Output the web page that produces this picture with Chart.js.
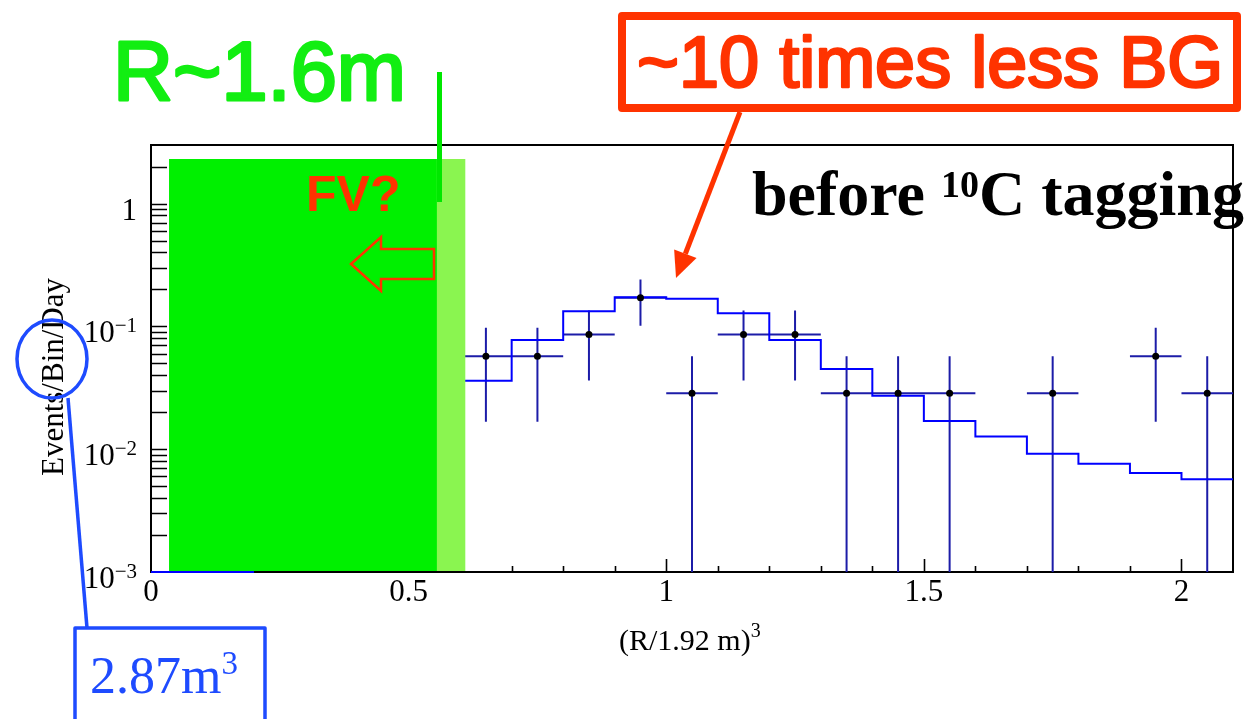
<!DOCTYPE html>
<html>
<head>
<meta charset="utf-8">
<title>Events per bin per day vs (R/1.92 m)^3</title>
<script src="https://cdn.jsdelivr.net/npm/chart.js@4.4.1/dist/chart.umd.min.js"></script>
<style>
  html, body { margin: 0; padding: 0; background: #ffffff; overflow: hidden; }
  #wrap { width: 1252px; height: 719px; position: relative; }
</style>
</head>
<body>
<div id="wrap"><canvas id="c" width="1252" height="719"></canvas></div>
<script>
// ---- measured rate per bin (events / bin / day) ----
const binCenters = [0.65, 0.75, 0.85, 0.95, 1.05, 1.15, 1.25, 1.35, 1.45, 1.55, 1.75, 1.95, 2.05];
const dataRate   = [0.0571, 0.0571, 0.0857, 0.171, 0.0286, 0.0857, 0.0857, 0.0286, 0.0286, 0.0286, 0.0286, 0.0571, 0.0286];
const errLow     = [0.0167, 0.0167, 0.0362, 0.101, 0, 0.0362, 0.0362, 0, 0, 0, 0, 0.0167, 0];
const errHigh    = [0.0975, 0.0975, 0.135, 0.241, 0.0571, 0.135, 0.135, 0.0571, 0.0571, 0.0571, 0.0571, 0.0975, 0.0571];
const binHalfWidth = 0.05;

// ---- expected background histogram (bin edges and contents) ----
const bgBinEdges = [0, 0.1, 0.2, 0.3, 0.4, 0.5, 0.6, 0.7, 0.8, 0.9, 1.0, 1.1, 1.2, 1.3, 1.4, 1.5, 1.6, 1.7, 1.8, 1.9, 2.0, 2.1];
const bgRate     = [0, 0, null, null, null, null, 0.0361, 0.0776, 0.133, 0.173, 0.168, 0.128, 0.0776, 0.045, 0.0272, 0.0170, 0.0127, 0.0092, 0.0076, 0.0064, 0.0057];

// ---- axis ticks ----
const xTickValues = [0, 0.5, 1, 1.5, 2];
const xTickLabels = ['0', '0.5', '1', '1.5', '2'];
const yTickValues = [1e-3, 1e-2, 1e-1, 1];
const yTickBase   = ['10', '10', '10', '1'];
const yTickExp    = ['\u22123', '\u22122', '\u22121', ''];

const X_MIN = 0, X_MAX = 2.1, Y_MIN = 1e-3, Y_MAX = 3.0;

// empty bins sit on the lower frame edge, as in the usual histogram drawing
const floorOf = v => (v === 0 ? Y_MIN : v);

const histPoints = [];
bgRate.forEach((v, i) => {
  if (v === null) { histPoints.push({ x: bgBinEdges[i], y: null }); return; }
  histPoints.push({ x: bgBinEdges[i], y: floorOf(v) });
  histPoints.push({ x: bgBinEdges[i + 1], y: floorOf(v) });
});
const dataPoints = binCenters.map((x, i) => ({ x: x, y: dataRate[i] }));

const RED = '#FF3300';
const BLUE_MARK = '#1E4BFF';
const ERR_COLOR = '#1C1CA8';
const SERIF = '"Liberation Serif", "Times New Roman", serif';
const SANS = '"Liberation Sans", Arial, sans-serif';

// frame, inside ticks and error bars (under the datasets)
const framePlugin = {
  id: 'frame',
  beforeDatasetsDraw(chart) {
    const { ctx, chartArea: a, scales: { x, y } } = chart;
    ctx.save();
    ctx.strokeStyle = '#000';
    ctx.lineWidth = 2;
    ctx.strokeRect(a.left, a.top, a.right - a.left, a.bottom - a.top);
    ctx.lineWidth = 1.6;
    ctx.beginPath();
    for (let k = 1; k <= 20; k++) {
      const px = Math.round(x.getPixelForValue(k * 0.1)) + 0.5;
      const len = (k % 5 === 0) ? 13 : 6;
      ctx.moveTo(px, a.bottom);
      ctx.lineTo(px, a.bottom - len);
    }
    for (let d = -3; d <= 0; d++) {
      for (let m = 1; m <= 9; m++) {
        const v = m * Math.pow(10, d);
        if (v <= Y_MIN || v >= Y_MAX) continue;
        const py = Math.round(y.getPixelForValue(v)) + 0.5;
        ctx.moveTo(a.left, py);
        ctx.lineTo(a.left + 16, py);
      }
    }
    ctx.stroke();

    // decade labels with raised exponents
    ctx.fillStyle = '#000';
    ctx.textBaseline = 'alphabetic';
    yTickValues.forEach((v, i) => {
      const py = y.getPixelForValue(v);
      const right = a.left - 14;
      ctx.font = '21px ' + SERIF;
      const we = yTickExp[i] ? ctx.measureText(yTickExp[i]).width : 0;
      if (we) ctx.fillText(yTickExp[i], right - we, py + 6);
      ctx.font = '31px ' + SERIF;
      const wb = ctx.measureText(yTickBase[i]).width;
      ctx.fillText(yTickBase[i], right - we - wb, py + 16);
    });

    // error bars of the measured points
    ctx.strokeStyle = ERR_COLOR;
    ctx.lineWidth = 2;
    ctx.beginPath();
    binCenters.forEach((c, i) => {
      const px = x.getPixelForValue(c);
      const py = y.getPixelForValue(dataRate[i]);
      ctx.moveTo(x.getPixelForValue(c - binHalfWidth), py);
      ctx.lineTo(x.getPixelForValue(c + binHalfWidth), py);
      ctx.moveTo(px, y.getPixelForValue(floorOf(errLow[i])));
      ctx.lineTo(px, y.getPixelForValue(errHigh[i]));
    });
    ctx.stroke();
    ctx.restore();
  }
};

function supText(ctx, base, sup, x, yb, baseFont, supFont, rise) {
  ctx.font = baseFont;
  ctx.fillText(base, x, yb);
  const w = ctx.measureText(base).width;
  ctx.font = supFont;
  ctx.fillText(sup, x + w, yb - rise);
  return w + ctx.measureText(sup).width;
}

// medium-weight sans text: regular glyphs with a thin outline of the same colour
function mediumText(ctx, text, x, yb, size, color, outline) {
  ctx.font = size + 'px ' + SANS;
  ctx.fillStyle = color;
  ctx.strokeStyle = color;
  ctx.lineWidth = outline;
  ctx.lineJoin = 'round';
  ctx.fillText(text, x, yb);
  ctx.strokeText(text, x, yb);
}

// fiducial-volume shading and slide notes
const notesPlugin = {
  id: 'notes',
  afterDatasetsDraw(chart) {
    const { ctx, chartArea: a, scales: { x } } = chart;
    ctx.save();
    const top = a.top + 14, bot = a.bottom - 1;
    const x0 = x.getPixelForValue(0.035), x1 = x.getPixelForValue(0.555), x2 = x.getPixelForValue(0.61);
    ctx.fillStyle = '#00F000';
    ctx.fillRect(x0, top, x1 - x0, bot - top);
    ctx.fillStyle = '#8AF550';
    ctx.fillRect(x1, top, x2 - x1, bot - top);

    // left-pointing outlined arrow
    ctx.strokeStyle = RED;
    ctx.lineWidth = 2.5;
    ctx.lineJoin = 'miter';
    ctx.beginPath();
    ctx.moveTo(351, 264);
    ctx.lineTo(381, 237);
    ctx.lineTo(381, 249);
    ctx.lineTo(434, 249);
    ctx.lineTo(434, 279);
    ctx.lineTo(381, 279);
    ctx.lineTo(381, 291);
    ctx.closePath();
    ctx.stroke();

    ctx.fillStyle = RED;
    ctx.font = 'bold 50px ' + SANS;
    ctx.textBaseline = 'alphabetic';
    ctx.fillText('FV?', 306, 211);
    ctx.restore();
  },
  afterDraw(chart) {
    const { ctx } = chart;
    ctx.save();
    ctx.textBaseline = 'alphabetic';

    // radius marker
    ctx.fillStyle = '#00E800';
    ctx.fillRect(437, 72, 5, 130);
    mediumText(ctx, 'R~1.6m', 113, 100, 83, '#12EE12', 3);

    // red call-out box
    ctx.strokeStyle = RED;
    ctx.lineWidth = 8;
    ctx.strokeRect(622, 16, 615, 92);
    mediumText(ctx, '~10 times less BG', 637, 87, 72, RED, 2.6);

    // call-out arrow
    const sx = 740, sy = 112, tx = 676, ty = 278;
    const ang = Math.atan2(ty - sy, tx - sx);
    const hl = 26, hw = 12;
    const bx = tx - hl * Math.cos(ang), by = ty - hl * Math.sin(ang);
    ctx.strokeStyle = RED;
    ctx.fillStyle = RED;
    ctx.lineWidth = 5;
    ctx.beginPath();
    ctx.moveTo(sx, sy);
    ctx.lineTo(bx, by);
    ctx.stroke();
    ctx.beginPath();
    ctx.moveTo(tx, ty);
    ctx.lineTo(bx + hw * Math.sin(ang), by - hw * Math.cos(ang));
    ctx.lineTo(bx - hw * Math.sin(ang), by + hw * Math.cos(ang));
    ctx.closePath();
    ctx.fill();

    // plot caption
    ctx.fillStyle = '#000';
    let cx = 752;
    ctx.font = 'bold 64px ' + SERIF;
    ctx.fillText('before ', cx, 215);
    cx += ctx.measureText('before ').width;
    ctx.font = 'bold 38px ' + SERIF;
    ctx.fillText('10', cx, 197);
    cx += ctx.measureText('10').width;
    ctx.font = 'bold 64px ' + SERIF;
    ctx.fillText('C tagging', cx, 215);

    // axis titles
    ctx.fillStyle = '#000';
    supText(ctx, '(R/1.92 m)', '3', 619, 650, '30px ' + SERIF, '20px ' + SERIF, 13);

    ctx.save();
    ctx.translate(63, 377);
    ctx.rotate(-Math.PI / 2);
    ctx.textAlign = 'center';
    ctx.font = '31px ' + SERIF;
    ctx.fillText('Events/Bin/Day', 0, 0);
    ctx.restore();

    // volume note
    ctx.strokeStyle = BLUE_MARK;
    ctx.lineWidth = 3.5;
    ctx.beginPath();
    ctx.ellipse(52, 359, 35, 39, 0, 0, Math.PI * 2);
    ctx.stroke();
    ctx.beginPath();
    ctx.moveTo(68, 398);
    ctx.lineTo(87, 628);
    ctx.stroke();
    ctx.strokeRect(75, 628, 190, 110);
    ctx.fillStyle = BLUE_MARK;
    supText(ctx, '2.87m', '3', 90, 693, '52px ' + SERIF, '33px ' + SERIF, 19);
    ctx.restore();
  }
};

new Chart(document.getElementById('c').getContext('2d'), {
  type: 'line',
  data: {
    datasets: [
      {
        label: 'data',
        data: dataPoints,
        showLine: false,
        pointRadius: 3.5,
        pointBackgroundColor: '#000',
        pointBorderWidth: 0,
        order: 0
      },
      {
        label: 'expected background',
        data: histPoints,
        borderColor: '#0000FF',
        borderWidth: 2,
        pointRadius: 0,
        tension: 0,
        spanGaps: false,
        fill: false,
        clip: false,
        order: 1
      }
    ]
  },
  options: {
    responsive: false,
    animation: false,
    events: [],
    layout: { padding: { top: 145, right: 19, left: 0, bottom: 0 } },
    plugins: { legend: { display: false }, tooltip: { enabled: false }, title: { display: false } },
    scales: {
      x: {
        type: 'linear',
        min: X_MIN,
        max: X_MAX,
        grid: { display: false, drawTicks: false },
        border: { display: false },
        afterBuildTicks: s => { s.ticks = xTickValues.map(v => ({ value: v })); },
        afterFit: s => { s.height = 147; },
        ticks: {
          autoSkip: false,
          maxRotation: 0,
          padding: 2,
          color: '#000',
          font: { family: SERIF, size: 31 },
          callback: v => xTickLabels[xTickValues.indexOf(v)]
        }
      },
      y: {
        type: 'logarithmic',
        min: Y_MIN,
        max: Y_MAX,
        grid: { display: false, drawTicks: false },
        border: { display: false },
        afterBuildTicks: s => { s.ticks = yTickValues.map(v => ({ value: v })); },
        afterFit: s => { s.width = 151; },
        ticks: { display: false }
      }
    }
  },
  plugins: [framePlugin, notesPlugin]
});
</script>
</body>
</html>
